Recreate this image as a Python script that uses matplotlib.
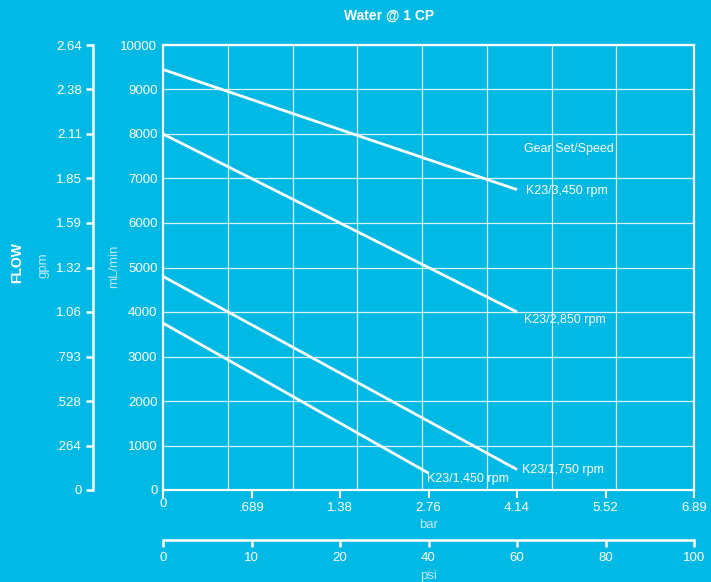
import numpy as np
import matplotlib.pyplot as plt

plt.rcParams['font.family'] = ['Liberation Sans', 'DejaVu Sans']

# chart data
psi_ticks = [0, 10, 20, 40, 60, 80, 100]
psi_labels = ['0', '10', '20', '40', '60', '80', '100']
bar_labels = ['0', '.689', '1.38', '2.76', '4.14', '5.52', '6.89']
ml_ticks = list(range(0, 10001, 1000))
gpm_labels = ['0', '.264', '.528', '.793', '1.06', '1.32', '1.59',
              '1.85', '2.11', '2.38', '2.64']

series_names = ['K23/3,450 rpm', 'K23/2,850 rpm', 'K23/1,750 rpm', 'K23/1,450 rpm']
series_psi = [[0, 60], [0, 60], [0, 60], [0, 40]]
series_flow = [[9450, 6750], [8000, 4000], [4800, 460], [3750, 380]]

# label offsets from line ends (points)
label_offsets = [(6.5, -1), (5, -6), (3.5, -0.5), (-1, -4.5)]

BG = '#00b9e4'
PALE = '#bfe9f7'
W = 'white'

tick_pos = np.arange(len(psi_ticks), dtype=float)


def fwd(x):
    return np.interp(x, psi_ticks, tick_pos)


def inv(x):
    return np.interp(x, tick_pos, psi_ticks)


fig = plt.figure(figsize=(7.11, 5.82), dpi=100, facecolor=BG)
fw, fh = 711.0, 582.0
left, right, top, bottom = 163, 694, 45, 490

ax = fig.add_axes([left / fw, 1 - bottom / fh, (right - left) / fw, (bottom - top) / fh])
ax.set_facecolor(BG)
ax.set_xscale('function', functions=(fwd, inv))
ax.set_xlim(0, 100)
ax.set_ylim(0, 10000)

for s in ax.spines.values():
    s.set_color(W)
    s.set_linewidth(1.6)

# grid
ax.set_yticks(ml_ticks)
ax.set_yticklabels([str(v) for v in ml_ticks])
ax.yaxis.grid(True, color=W, lw=0.9, alpha=0.85)
for k in range(1, 8):
    ax.plot([0.122 * k] * 2, [0, 1], transform=ax.transAxes, color=W, lw=0.9, alpha=0.85)

ax.set_xticks(psi_ticks)
ax.set_xticklabels(bar_labels)
ax.tick_params(axis='y', length=0, pad=4, labelsize=9.5, labelcolor=W)
ax.tick_params(axis='x', length=5.5, width=1.5, color=W, pad=3, labelsize=9.5, labelcolor=W)
ax.get_xticklabels()[0].set_y(0.008)
ax.set_xlabel('bar', color=PALE, fontsize=9.5, labelpad=3.5)

for name, xs, ys, off in zip(series_names, series_psi, series_flow, label_offsets):
    ax.plot(xs, ys, color=W, lw=2.0, solid_capstyle='butt')
    ax.annotate(name, xy=(xs[-1], ys[-1]), xytext=off, textcoords='offset points',
                ha='left', va='center', color=W, fontsize=9)

ax.text(0.764, 0.766, 'Gear Set/Speed', transform=ax.transAxes, ha='center',
        va='center', color=W, fontsize=9)

# gpm axis
gax = fig.add_axes([93 / fw, 1 - bottom / fh, 0.0001, (bottom - top) / fh])
gax.set_facecolor('none')
for k in ['top', 'right', 'bottom']:
    gax.spines[k].set_visible(False)
gax.spines['left'].set_color(W)
gax.spines['left'].set_linewidth(1.8)
gax.set_ylim(0, 10000)
gax.set_yticks(ml_ticks)
gax.set_yticklabels(gpm_labels)
gax.set_xticks([])
gax.tick_params(axis='y', length=5, width=1.8, color=W, pad=3, labelsize=9.5, labelcolor=W)

# psi axis
pax = fig.add_axes([left / fw, 1 - 540 / fh, (right - left) / fw, 0.0001])
pax.set_facecolor('none')
for k in ['top', 'right', 'left']:
    pax.spines[k].set_visible(False)
pax.spines['bottom'].set_color(W)
pax.spines['bottom'].set_linewidth(1.8)
pax.set_xscale('function', functions=(fwd, inv))
pax.set_xlim(0, 100)
pax.set_yticks([])
pax.set_xticks(psi_ticks)
pax.set_xticklabels(psi_labels)
pax.tick_params(axis='x', length=5, width=1.8, color=W, pad=3.5, labelsize=9.5, labelcolor=W)
pax.set_xlabel('psi', color=PALE, fontsize=9.5, labelpad=4.5)

fig.text(389 / fw, 1 - 16 / fh, 'Water @ 1 CP', ha='center', va='center',
         color=W, fontsize=10, fontweight='bold')
fig.text(17 / fw, 1 - 263 / fh, 'FLOW', rotation=90, ha='center', va='center',
         color=W, fontsize=10, fontweight='bold')
fig.text(44 / fw, 1 - 265 / fh, 'gpm', rotation=90, ha='center', va='center',
         color=PALE, fontsize=9.5)
fig.text(114 / fw, 1 - 266 / fh, 'mL/min', rotation=90, ha='center', va='center',
         color=PALE, fontsize=9.5)

fig.savefig('out.png', dpi=100, facecolor=BG)
